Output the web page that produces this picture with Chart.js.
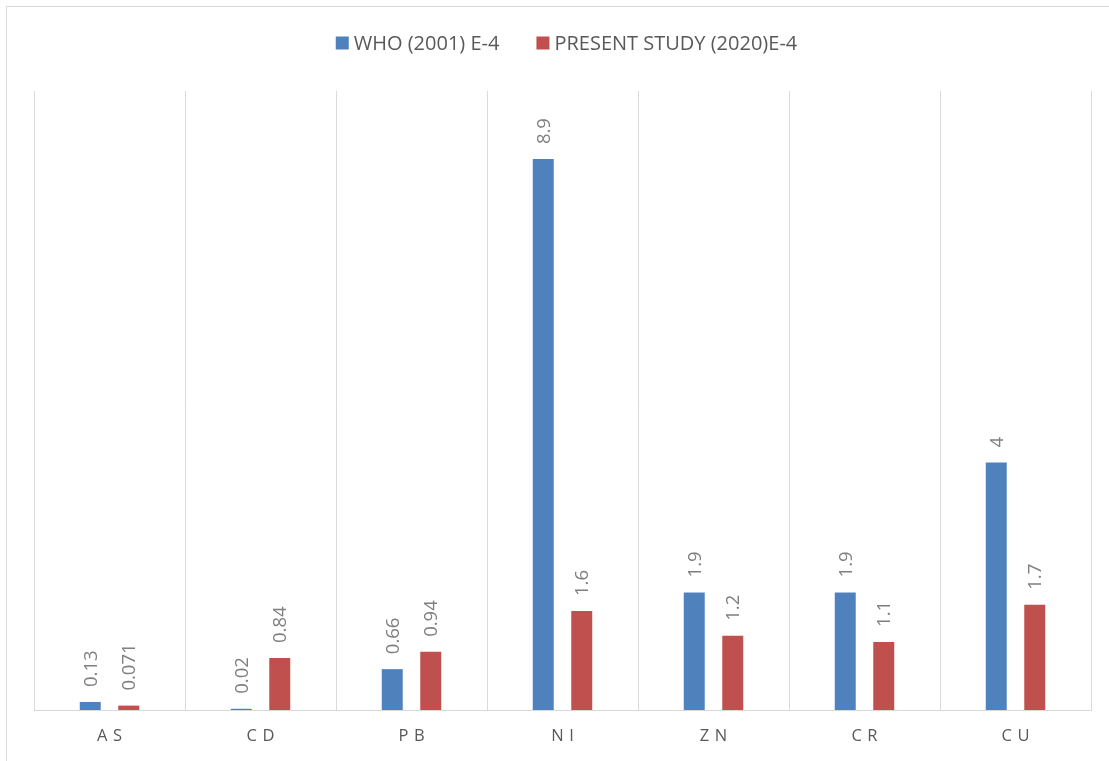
<!DOCTYPE html>
<html>
<head>
<meta charset="utf-8">
<script src="https://cdn.jsdelivr.net/npm/chart.js@4/dist/chart.umd.min.js"></script>
<style>
  html, body { margin: 0; padding: 0; background: #ffffff; overflow: hidden; }
  #frame {
    position: absolute; left: 6px; top: 6px; width: 1200px; height: 900px;
    border-left: 1px solid #d9d9d9; border-top: 1px solid #d9d9d9;
  }
  #wrap { position: absolute; left: 0; top: 0; width: 1109px; height: 761px; }
</style>
</head>
<body>
<div id="frame"></div>
<div id="wrap"><canvas id="chart" width="1109" height="761"></canvas></div>
<script>
// Metal concentrations (E-4)
const categories = ['AS', 'CD', 'PB', 'NI', 'ZN', 'CR', 'CU'];
const whoValues = [0.13, 0.02, 0.66, 8.9, 1.9, 1.9, 4];
const presentValues = [0.071, 0.84, 0.94, 1.6, 1.2, 1.1, 1.7];
const seriesNames = ['WHO (2001) E-4', 'PRESENT STUDY (2020)E-4'];
const seriesColors = ['#4f81bd', '#c0504d'];

const FONT = "'Open Sans', Lato, 'Liberation Sans', sans-serif";

// Rotated value labels above each bar
const valueLabels = {
  id: 'valueLabels',
  afterDatasetsDraw(chart) {
    const ctx = chart.ctx;
    ctx.save();
    ctx.font = '18.5px ' + FONT;
    ctx.fillStyle = '#7f7f7f';
    ctx.textAlign = 'left';
    ctx.textBaseline = 'middle';
    chart.data.datasets.forEach((ds, i) => {
      chart.getDatasetMeta(i).data.forEach((bar, j) => {
        ctx.save();
        ctx.translate(bar.x, bar.y - 15);
        ctx.rotate(-Math.PI / 2);
        ctx.fillText(String(ds.data[j]), 0, 1);
        ctx.restore();
      });
    });
    ctx.restore();
  }
};

// Legend row centred above the plot
const topLegend = {
  id: 'topLegend',
  afterDraw(chart) {
    const ctx = chart.ctx;
    const box = 13, gapText = 5, gapItem = 37, cy = 43;
    ctx.save();
    ctx.font = '20px ' + FONT;
    ctx.textBaseline = 'middle';
    ctx.textAlign = 'left';
    const items = chart.data.datasets.map(ds => ({
      text: ds.label, color: ds.backgroundColor, w: ctx.measureText(ds.label).width
    }));
    let total = 0;
    items.forEach((it, k) => { total += box + gapText + it.w + (k ? gapItem : 0); });
    const area = chart.chartArea;
    let x = (area.left + area.right) / 2 + 4 - total / 2;
    items.forEach(it => {
      ctx.fillStyle = it.color;
      ctx.fillRect(x, cy - box / 2, box, box);
      ctx.fillStyle = '#595959';
      ctx.fillText(it.text, x + box + gapText, cy + 1);
      x += box + gapText + it.w + gapItem;
    });
    ctx.restore();
  }
};

new Chart(document.getElementById('chart'), {
  type: 'bar',
  data: {
    labels: categories,
    datasets: [
      { label: seriesNames[0], data: whoValues, backgroundColor: seriesColors[0],
        categoryPercentage: 0.51, barPercentage: 0.545 },
      { label: seriesNames[1], data: presentValues, backgroundColor: seriesColors[1],
        categoryPercentage: 0.51, barPercentage: 0.545 }
    ]
  },
  options: {
    responsive: false,
    animation: false,
    layout: { padding: { left: 34, right: 18, top: 91, bottom: 0 } },
    plugins: {
      legend: { display: false },
      tooltip: { enabled: false }
    },
    scales: {
      x: {
        afterFit: (scale) => { scale.height = 51; },
        grid: { color: '#d9d9d9', lineWidth: 1, drawTicks: false, offset: true },
        border: { color: '#d9d9d9', width: 1 },
        ticks: {
          color: '#595959', padding: 16,
          font: { family: FONT, size: 16.5 },
          callback: (v, i) => categories[i].split('').join('\u2004')
        }
      },
      y: {
        display: false,
        min: 0, max: 10
      }
    }
  },
  plugins: [valueLabels, topLegend]
});
</script>
</body>
</html>
